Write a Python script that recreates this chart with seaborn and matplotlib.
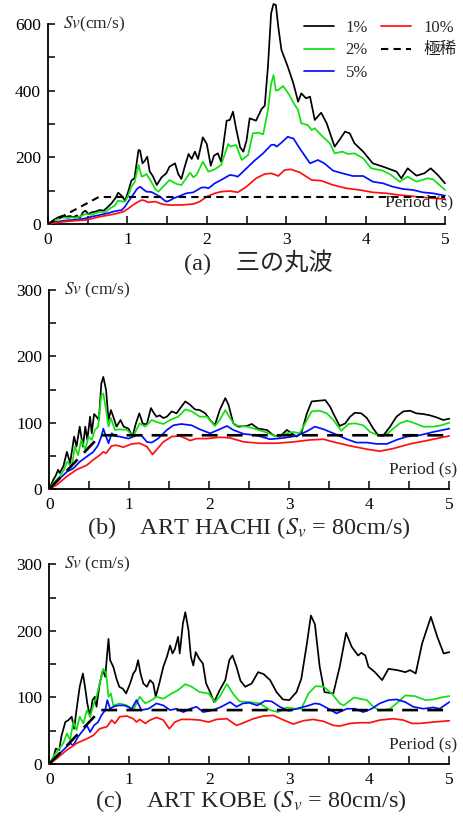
import matplotlib
matplotlib.use('Agg')
import matplotlib.pyplot as plt
import seaborn as sns
import pandas as pd
from matplotlib.ticker import MultipleLocator

# ---------------- data: (period [s], Sv [cm/s]) ----------------
labels = ['1%', '2%', '5%', '10%', '極稀']
titles = ['(a)    三の丸波',
          r'(b)    ART HACHI ($S_v$ = 80cm/s)',
          r'(c)    ART KOBE ($S_v$ = 80cm/s)']

a_h1 = [(0,0),(0.03,5),(0.07,12),(0.11,18),(0.15,22),(0.19,25),(0.23,22),(0.28,24),(0.32,20),(0.36,26),
        (0.4,18),(0.44,35),(0.47,40),(0.51,30),(0.55,35),(0.61,38),(0.65,42),(0.7,40),(0.74,48),(0.8,62),
        (0.85,78),(0.885,94),(0.93,84),(0.97,70),(1.01,97),(1.05,130),(1.09,138),(1.14,222),(1.16,220),
        (1.19,182),(1.22,190),(1.25,202),(1.28,158),(1.32,144),(1.37,117),(1.43,140),(1.49,152),(1.53,172),
        (1.6,182),(1.64,150),(1.68,135),(1.72,170),(1.77,210),(1.81,195),(1.85,217),(1.89,195),(1.95,260),
        (2.0,240),(2.05,175),(2.09,205),(2.14,212),(2.18,187),(2.25,310),(2.29,312),(2.33,337),(2.37,285),
        (2.42,230),(2.46,217),(2.5,250),(2.54,317),(2.62,310),(2.69,345),(2.73,355),(2.77,472),(2.81,632),
        (2.84,660),(2.87,657),(2.9,592),(2.94,522),(3.02,472),(3.09,422),(3.15,367),(3.19,392),(3.25,377),
        (3.3,382),(3.36,312),(3.44,334),(3.51,302),(3.61,232),(3.67,252),(3.74,277),(3.8,272),(3.86,242),
        (3.97,217),(4.09,182),(4.22,172),(4.39,157),(4.45,137),(4.53,167),(4.64,145),(4.74,152),(4.82,167),
        (4.91,147),(5.0,122)]
a_h2 = [(0,0),(0.05,5),(0.1,12),(0.15,17),(0.2,20),(0.25,17),(0.3,20),(0.35,18),(0.4,22),(0.47,30),
        (0.55,28),(0.65,37),(0.72,35),(0.78,47),(0.84,55),(0.88,70),(0.93,68),(0.97,67),(1.01,85),(1.05,112),
        (1.09,125),(1.14,177),(1.18,142),(1.21,145),(1.24,150),(1.3,127),(1.35,105),(1.39,97),(1.45,112),
        (1.53,132),(1.58,125),(1.62,120),(1.68,117),(1.74,137),(1.79,154),(1.83,140),(1.87,147),(1.95,187),
        (2.02,157),(2.1,164),(2.18,177),(2.27,240),(2.3,232),(2.33,235),(2.37,237),(2.44,192),(2.52,207),
        (2.58,272),(2.65,274),(2.71,269),(2.77,342),(2.81,420),(2.84,447),(2.87,400),(2.9,402),(2.96,414),
        (3.04,387),(3.1,360),(3.15,342),(3.19,302),(3.27,297),(3.32,282),(3.36,287),(3.46,262),(3.55,242),
        (3.61,212),(3.71,217),(3.78,210),(3.86,212),(3.97,197),(4.07,167),(4.22,160),(4.32,147),(4.43,127),
        (4.53,142),(4.64,127),(4.78,137),(4.85,134),(4.93,117),(5.0,102)]
a_h5 = [(0,0),(0.1,6),(0.2,10),(0.3,12),(0.4,14),(0.47,17),(0.55,22),(0.65,27),(0.75,32),(0.82,37),
        (0.88,40),(0.93,42),(0.97,52),(1.01,67),(1.07,87),(1.12,105),(1.16,112),(1.2,104),(1.24,97),(1.3,96),
        (1.32,94),(1.41,82),(1.45,74),(1.49,67),(1.53,70),(1.58,77),(1.66,84),(1.74,92),(1.83,95),(1.93,109),
        (1.98,110),(2.02,107),(2.1,122),(2.18,132),(2.29,147),(2.35,145),(2.39,142),(2.5,167),(2.6,190),
        (2.71,212),(2.81,237),(2.85,238),(2.88,232),(2.94,244),(3.02,262),(3.06,258),(3.09,257),(3.17,227),
        (3.3,182),(3.4,192),(3.48,182),(3.59,160),(3.71,152),(3.84,144),(3.97,144),(4.09,127),(4.22,122),
        (4.34,112),(4.47,105),(4.6,102),(4.72,95),(4.85,92),(5.0,85)]
a_h10 = [(0,0),(0.1,4),(0.2,7),(0.3,9),(0.4,11),(0.47,12),(0.55,16),(0.65,22),(0.75,26),(0.84,30),
         (0.95,37),(1.01,46),(1.07,57),(1.13,66),(1.18,72),(1.22,70),(1.26,65),(1.35,67),(1.45,59),(1.53,57),
         (1.68,57),(1.83,60),(1.91,67),(2.0,82),(2.1,92),(2.18,97),(2.29,99),(2.39,95),(2.5,112),(2.62,137),
         (2.73,150),(2.81,152),(2.86,148),(2.9,144),(2.98,162),(3.06,164),(3.17,155),(3.32,132),(3.44,130),
         (3.59,117),(3.76,107),(3.93,102),(4.09,95),(4.26,92),(4.43,87),(4.64,82),(4.81,78),(5.0,75)]
a_rare = [(0,0),(0.16,20),(0.64,81),(5.0,81)]

b_h1 = [(0,0),(0.05,14),(0.08,20),(0.11,29),(0.13,24),(0.175,34),(0.22,56),(0.26,39),(0.31,79),(0.34,64),
        (0.38,94),(0.42,64),(0.45,94),(0.475,74),(0.51,109),(0.53,84),(0.56,113),(0.59,109),(0.62,104),
        (0.65,159),(0.675,169),(0.71,149),(0.74,104),(0.77,119),(0.8,109),(0.84,94),(0.89,104),(0.93,94),
        (0.99,91),(1.04,79),(1.08,98),(1.125,114),(1.17,98),(1.22,98),(1.27,122),(1.31,114),(1.34,109),
        (1.38,111),(1.425,107),(1.47,109),(1.53,117),(1.59,114),(1.65,124),(1.7,132),(1.76,127),(1.82,120),
        (1.88,119),(1.95,114),(2.01,104),(2.07,96),(2.13,119),(2.2,137),(2.24,127),(2.3,99),(2.36,94),
        (2.47,95),(2.53,98),(2.61,91),(2.72,89),(2.8,81),(2.88,79),(2.97,89),(3.03,84),(3.09,79),(3.15,84),
        (3.22,114),(3.28,132),(3.36,133),(3.45,134),(3.51,124),(3.57,109),(3.63,95),(3.7,99),(3.76,109),
        (3.82,115),(3.9,114),(3.97,107),(4.05,91),(4.11,81),(4.17,80),(4.26,94),(4.34,109),(4.425,117),
        (4.51,118),(4.59,114),(4.675,113),(4.76,111),(4.84,108),(4.925,104),(5.0,106)]
b_h2 = [(0,0),(0.05,9),(0.13,19),(0.18,28),(0.22,41),(0.28,34),(0.32,64),(0.36,51),(0.4,74),(0.45,59),
        (0.49,79),(0.53,74),(0.57,89),(0.61,94),(0.65,141),(0.675,144),(0.71,119),(0.74,94),(0.77,107),
        (0.82,89),(0.88,90),(0.97,89),(1.05,80),(1.13,99),(1.2,94),(1.28,104),(1.34,101),(1.425,98),
        (1.51,104),(1.61,109),(1.7,120),(1.78,117),(1.88,109),(1.97,109),(2.07,95),(2.13,104),(2.2,119),
        (2.26,107),(2.32,96),(2.47,94),(2.59,90),(2.72,85),(2.84,79),(2.97,84),(3.05,86),(3.13,84),
        (3.22,104),(3.28,117),(3.38,118),(3.47,114),(3.55,104),(3.65,88),(3.74,98),(3.82,99),(3.925,96),
        (4.01,86),(4.11,81),(4.2,81),(4.3,91),(4.38,99),(4.47,103),(4.57,99),(4.675,94),(4.8,94),(4.9,96),
        (5.0,100)]
b_h5 = [(0,0),(0.09,11),(0.15,18),(0.22,26),(0.3,31),(0.38,41),(0.47,49),(0.55,56),(0.61,66),(0.65,79),
        (0.675,91),(0.71,79),(0.74,69),(0.78,84),(0.82,80),(0.88,79),(0.99,76),(1.09,81),(1.15,81),(1.22,71),
        (1.28,70),(1.36,76),(1.47,89),(1.55,96),(1.65,98),(1.78,96),(1.88,90),(2.01,84),(2.11,89),(2.22,95),
        (2.3,89),(2.43,83),(2.59,81),(2.76,75),(2.93,77),(3.09,80),(3.22,87),(3.32,94),(3.43,90),(3.55,84),
        (3.72,75),(3.84,70),(3.97,70),(4.09,68),(4.22,68),(4.34,74),(4.47,79),(4.63,81),(4.8,86),(5.0,91)]
b_h10 = [(0,0),(0.09,6),(0.22,19),(0.34,29),(0.47,36),(0.55,44),(0.63,51),(0.675,56),(0.71,54),(0.78,65),
         (0.84,66),(0.925,63),(1.03,68),(1.13,69),(1.22,64),(1.29,52),(1.34,59),(1.425,71),(1.53,79),
         (1.63,80),(1.71,76),(1.76,73),(1.84,76),(1.97,76),(2.13,78),(2.26,77),(2.43,71),(2.63,69),(2.84,69),
         (3.05,71),(3.26,74),(3.43,75),(3.55,71),(3.76,65),(3.97,60),(4.13,57),(4.3,61),(4.51,68),(4.72,73),
         (4.88,77),(5.0,80)]
b_rare = [(0,0),(0.16,20),(0.64,81),(5.0,81)]

c_h1 = [(0,0),(0.05,8),(0.08,23),(0.125,21),(0.15,41),(0.2,63),(0.24,66),(0.28,71),(0.31,53),(0.34,81),
        (0.38,116),(0.42,136),(0.45,113),(0.475,91),(0.51,71),(0.54,96),(0.57,101),(0.59,86),(0.63,121),
        (0.67,141),(0.7,131),(0.72,161),(0.74,188),(0.76,156),(0.8,146),(0.84,128),(0.875,116),(0.92,113),
        (0.96,106),(1.01,121),(1.05,136),(1.08,141),(1.11,156),(1.14,136),(1.175,121),(1.22,116),(1.26,126),
        (1.3,121),(1.33,101),(1.375,121),(1.425,146),(1.47,161),(1.51,178),(1.54,166),(1.57,173),(1.61,191),
        (1.63,166),(1.67,211),(1.7,228),(1.74,201),(1.77,161),(1.8,148),(1.83,168),(1.875,158),(1.92,151),
        (1.96,121),(2.01,108),(2.06,93),(2.13,111),(2.2,126),(2.25,156),(2.29,163),(2.34,146),(2.39,125),
        (2.45,116),(2.53,121),(2.61,138),(2.68,135),(2.76,126),(2.84,108),(2.92,97),(3.0,96),(3.09,108),
        (3.15,128),(3.22,181),(3.27,223),(3.32,210),(3.38,146),(3.44,108),(3.55,106),(3.63,146),(3.71,197),
        (3.78,176),(3.86,163),(3.9,167),(3.95,163),(3.99,146),(4.07,138),(4.16,126),(4.24,143),(4.35,141),
        (4.45,138),(4.51,141),(4.58,136),(4.66,181),(4.77,221),(4.85,191),(4.93,166),(5.0,168)]
c_h2 = [(0,0),(0.05,11),(0.11,21),(0.175,31),(0.22,46),(0.26,36),(0.3,63),(0.34,51),(0.38,71),(0.425,61),
        (0.47,81),(0.51,71),(0.55,88),(0.59,101),(0.63,121),(0.675,143),(0.71,136),(0.74,101),(0.77,106),
        (0.8,88),(0.88,91),(0.97,88),(1.05,81),(1.13,101),(1.2,91),(1.28,96),(1.34,101),(1.425,98),
        (1.53,106),(1.61,111),(1.7,120),(1.78,116),(1.88,108),(1.99,106),(2.07,93),(2.13,101),(2.22,120),
        (2.3,105),(2.38,94),(2.51,93),(2.63,91),(2.76,81),(2.86,78),(2.97,85),(3.07,83),(3.15,83),(3.24,106),
        (3.33,117),(3.43,116),(3.53,106),(3.63,91),(3.68,88),(3.81,100),(3.88,98),(3.97,96),(4.05,86),
        (4.13,80),(4.26,83),(4.36,93),(4.45,103),(4.57,102),(4.7,96),(4.8,97),(4.9,100),(5.0,102)]
c_h5 = [(0,0),(0.09,11),(0.175,21),(0.26,31),(0.3,28),(0.36,41),(0.425,51),(0.47,58),(0.51,48),(0.56,58),
        (0.61,63),(0.65,73),(0.7,81),(0.725,96),(0.76,83),(0.8,86),(0.86,88),(0.945,88),(1.03,83),(1.09,96),
        (1.15,81),(1.24,83),(1.34,91),(1.425,88),(1.51,81),(1.59,83),(1.675,78),(1.76,83),(1.84,86),
        (1.925,78),(2.05,81),(2.15,86),(2.26,93),(2.34,86),(2.42,91),(2.5,92),(2.6,88),(2.7,95),(2.78,94),
        (2.88,86),(2.99,80),(3.09,83),(3.22,87),(3.32,91),(3.38,90),(3.49,83),(3.59,76),(3.72,83),(3.82,83),
        (3.925,78),(4.03,83),(4.13,91),(4.24,96),(4.34,97),(4.45,93),(4.55,86),(4.675,83),(4.8,85),(4.88,83),
        (5.0,93)]
c_h10 = [(0,0),(0.09,8),(0.22,21),(0.34,31),(0.47,38),(0.55,43),(0.63,53),(0.72,56),(0.78,66),(0.82,61),
         (0.88,71),(0.97,72),(1.05,68),(1.09,63),(1.13,67),(1.2,61),(1.26,66),(1.34,70),(1.425,66),(1.5,53),
         (1.57,63),(1.65,67),(1.76,67),(1.88,66),(1.99,63),(2.09,67),(2.22,68),(2.34,58),(2.43,62),(2.55,68),
         (2.675,72),(2.8,73),(2.93,66),(3.05,60),(3.175,65),(3.3,67),(3.43,64),(3.55,58),(3.63,57),(3.76,61),
         (3.88,62),(4.01,62),(4.13,66),(4.3,68),(4.425,66),(4.53,61),(4.63,61),(4.8,63),(5.0,65)]
c_rare = [(0,0),(0.16,20),(0.64,81),(5.0,81)]

panels = [
    dict(series=[a_h1, a_h2, a_h5, a_h10, a_rare], ymax=600, ystep=200, yminor=100),
    dict(series=[b_h1, b_h2, b_h5, b_h10, b_rare], ymax=300, ystep=100, yminor=50),
    dict(series=[c_h1, c_h2, c_h5, c_h10, c_rare], ymax=300, ystep=100, yminor=50),
]

# ---------------- styling ----------------
sns.set_theme(style='ticks')
plt.rcParams['font.family'] = ['Liberation Serif', 'Noto Sans CJK JP', 'DejaVu Sans']
plt.rcParams['mathtext.fontset'] = 'stix'

colors = ['black', '#10e010', '#0010ff', '#ff1010', 'black']

fig = plt.figure(figsize=(4.63, 8.16), dpi=100)
W, H = 463.0, 816.0
# pixel boxes: (x0, x5, y0, ytop)
boxes = [(48, 445, 224, 24), (49.3, 449.3, 489, 290), (49.3, 449.3, 764, 564.3)]
title_pos = [(258, 262), (248.5, 528), (251, 801)]

for i, (p, box) in enumerate(zip(panels, boxes)):
    x0, x5, yb, yt = box
    ax = fig.add_axes([x0 / W, 1 - yb / H, (x5 - x0) / W, (yb - yt) / H])
    for j, (pts, lab, col) in enumerate(zip(p['series'], labels, colors)):
        df = pd.DataFrame(pts, columns=['T', 'Sv'])
        kw = dict(color=col, lw=1.25, estimator=None, sort=False, ax=ax, zorder=2 + j, clip_on=False)
        if j == 4:
            kw['lw'] = 1.5 if i == 0 else 1.9
            kw['linestyle'] = (0, (3.5, 2.5)) if i == 0 else (0, (6, 3.5))
        if i == 0:
            sns.lineplot(data=df, x='T', y='Sv', label=lab, **kw)
        else:
            sns.lineplot(data=df, x='T', y='Sv', legend=False, **kw)
    ax.set_xlim(0, 5)
    ax.set_ylim(0, p['ymax'])
    ax.set_xlabel('')
    ax.set_ylabel('')
    ax.xaxis.set_major_locator(MultipleLocator(1))
    ax.xaxis.set_minor_locator(MultipleLocator(0.5))
    ax.yaxis.set_major_locator(MultipleLocator(p['ystep']))
    ax.yaxis.set_minor_locator(MultipleLocator(p['yminor']))
    for s in ['top', 'right']:
        ax.spines[s].set_visible(False)
    for s in ['left', 'bottom']:
        ax.spines[s].set_linewidth(1.3)
        ax.spines[s].set_color('black')
    ax.tick_params(axis='x', which='both', direction='in', length=5.5, width=1.1,
                   labelsize=12.5, pad=6, colors='black')
    ax.tick_params(axis='y', which='both', direction='in', length=4.8, width=1.1,
                   labelsize=12.5, pad=5, colors='black')
    ax.set_facecolor('none')
    ylab = r'$Sv$(cm/s)' if i == 0 else r'$Sv$ (cm/s)'
    ax.text(0.037, 1.0, ylab, transform=ax.transAxes, ha='left', va='center', fontsize=12.5)
    ax.text(1.02, 0.11 if i == 0 else 0.10, 'Period (s)', transform=ax.transAxes,
            ha='right', va='center', fontsize=12.5, zorder=10)
    if i == 0:
        ax.legend(ncol=2, frameon=False, loc='upper left', bbox_to_anchor=(0.645, 1.02),
                  fontsize=12, handlelength=1.8, handletextpad=0.7, columnspacing=0.8,
                  labelspacing=0.38, borderaxespad=0, borderpad=0)
    tx, ty = title_pos[i]
    fig.text(tx / W, 1 - ty / H, titles[i], ha='center', va='center', fontsize=17.5)

fig.savefig('out.png', dpi=100, facecolor='white')
